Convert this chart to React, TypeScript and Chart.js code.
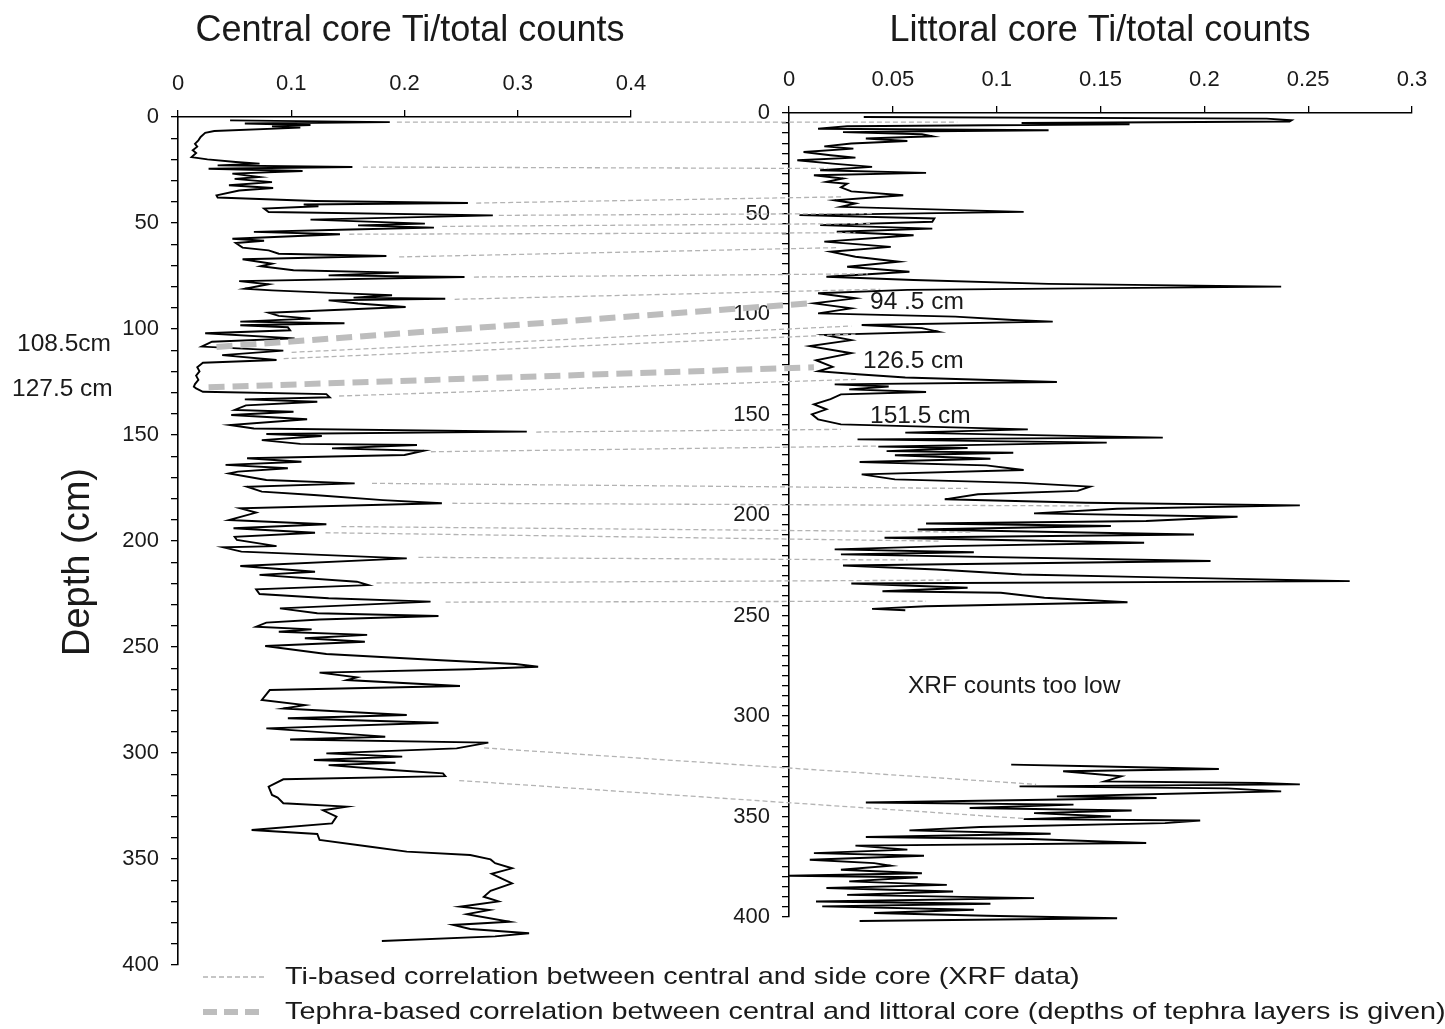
import React, { useEffect, useRef } from 'react';
import { Chart, registerables } from 'chart.js';

Chart.register(...registerables);

// ---------------- DATA ----------------
// [depth (cm), Ti/total counts]
const centralCore: [number, number][] = [
  [1.6,0.046],[2.4,0.187],[3.1,0.059],[3.8,0.117],[4.4,0.083],[5.0,0.108],[6.6,0.032],[7.5,0.024],[9.4,0.020],[11,0.018],
  [12.6,0.015],[14,0.017],[15.7,0.013],[17,0.016],[18.9,0.012],[20,0.026],[21.2,0.051],[22,0.072],[22.8,0.035],[23.6,0.154],
  [24.4,0.027],[25.5,0.110],[26.7,0.048],[28.3,0.072],[29.2,0.050],[30.7,0.083],[32.2,0.045],[33.5,0.084],[34.7,0.054],[37,0.034],
  [38,0.035],[39.6,0.121],[40.6,0.256],[41.3,0.111],[42.1,0.124],[43.2,0.076],[44.8,0.080],[46.4,0.278],[48.4,0.117],[50.3,0.218],
  [51.1,0.159],[52.2,0.226],[53.1,0.152],[54.2,0.067],[55.3,0.143],[57.4,0.048],[58.4,0.076],[59.4,0.051],[61.6,0.057],[62.9,0.080],
  [64.5,0.089],[65.6,0.184],[67.1,0.057],[69.2,0.083],[70.4,0.073],[72.3,0.102],[73.4,0.195],[74.7,0.133],[75.5,0.253],[77.4,0.054],
  [78.9,0.080],[81,0.059],[81.8,0.083],[83.3,0.152],[84.1,0.189],[85.2,0.155],[85.7,0.236],[86.5,0.133],[88,0.159],[89.6,0.201],
  [92.3,0.080],[93.8,0.089],[95.1,0.117],[96.5,0.055],[97.3,0.147],[98.2,0.055],[99.2,0.097],[100.6,0.099],[102,0.024],[104.4,0.103],
  [106,0.030],[108.3,0.021],[110.2,0.093],[112.3,0.039],[114.6,0.087],[115.9,0.022],[118,0.017],[120,0.019],[122,0.016],[124,0.018],
  [126,0.015],[127.2,0.014],[128,0.016],[129.6,0.022],[130.7,0.131],[132.2,0.134],[133.2,0.059],[134.3,0.123],[136,0.060],[138.2,0.050],
  [139,0.102],[140.6,0.047],[142.6,0.114],[145.3,0.046],[146.9,0.067],[148.4,0.308],[149.5,0.078],[150.5,0.127],[152.4,0.074],[154.2,0.108],
  [154.7,0.211],[156.3,0.136],[157.4,0.217],[159.4,0.200],[161,0.061],[162.6,0.109],[164.1,0.042],[165.7,0.097],[167.3,0.053],[168.1,0.045],
  [171.2,0.078],[172.8,0.156],[174.4,0.061],[176.7,0.074],[178.3,0.120],[180.7,0.181],[182.2,0.233],[184.6,0.055],[186.6,0.069],[190.1,0.045],
  [192.1,0.131],[194,0.049],[196.1,0.121],[198,0.050],[199.5,0.052],[202.4,0.087],[203,0.040],[205,0.056],[208.2,0.202],[211.8,0.055],
  [214.5,0.121],[216,0.072],[219.2,0.158],[220.8,0.168],[222.8,0.069],[225,0.072],[227,0.133],[228.6,0.223],[231.8,0.090],[234.1,0.123],
  [235.4,0.230],[237,0.125],[238.5,0.078],[240.4,0.069],[241.7,0.118],[242.8,0.089],[244.3,0.167],[245.9,0.112],[247.5,0.165],[249.5,0.077],
  [253.3,0.131],[256.1,0.228],[258,0.298],[259.3,0.318],[260.5,0.258],[262.1,0.125],[264.3,0.158],[265.6,0.149],[268.4,0.249],[270.3,0.081],
  [275,0.074],[277.4,0.112],[279,0.093],[282.1,0.202],[283.6,0.097],[285.7,0.230],[288.4,0.078],[292.3,0.183],[293.6,0.099],[295.1,0.274],
  [297.8,0.246],[300.2,0.131],[301.7,0.198],[303.3,0.120],[304.6,0.192],[305.7,0.133],[308,0.189],[309.6,0.234],[310.9,0.236],[312.4,0.093],
  [315.9,0.080],[319.8,0.083],[321,0.088],[323.7,0.093],[325.3,0.149],[327,0.128],[330,0.140],[333.2,0.136],[336.3,0.065],[338.2,0.123],
  [341,0.125],[344.2,0.170],[346.5,0.202],[348.1,0.258],[350.2,0.276],[352,0.280],[354.4,0.295],[357,0.277],[359,0.285],[361.5,0.295],
  [365,0.276],[367.8,0.270],[370,0.283],[372.5,0.249],[374,0.275],[376,0.255],[379.6,0.293],[381.1,0.243],[383,0.258],[385,0.310],
  [386.5,0.280],[388.7,0.180],
];

const littoralUpper: [number, number][] = [
  [2,0.036],[2.8,0.230],[3.6,0.242],[4.2,0.241],[5,0.112],[5.6,0.164],[6.6,0.028],[7.8,0.014],[8.6,0.125],[9.5,0.026],
  [10.6,0.064],[11.6,0.069],[12.7,0.037],[13.9,0.057],[15.2,0.030],[16.6,0.017],[17.7,0.031],[19.4,0.007],[21,0.020],[22.2,0.032],
  [23.5,0.004],[25.2,0.021],[26.8,0.040],[28.5,0.015],[29.8,0.066],[31,0.012],[32.6,0.026],[34.3,0.018],[35.2,0.028],[37,0.025],
  [39,0.030],[40.9,0.055],[43.4,0.022],[45,0.032],[46.7,0.025],[49.2,0.113],[50.8,0.005],[52.5,0.070],[54.1,0.069],[55.8,0.015],
  [57.5,0.069],[59.1,0.023],[60.8,0.060],[64,0.017],[66.6,0.049],[69,0.020],[71.5,0.032],[74,0.053],[76.5,0.028],[79,0.058],
  [81.5,0.018],[83.1,0.060],[85,0.125],[86.4,0.237],[88,0.057],[89.7,0.014],[92.2,0.032],[94.7,0.012],[97.2,0.030],[99.7,0.014],
  [101.3,0.080],[103,0.108],[103.8,0.127],[105.5,0.035],[107,0.064],[108.8,0.072],[110.4,0.017],[113,0.030],[116,0.010],[119.5,0.030],
  [123,0.013],[126.3,0.021],[128.5,0.014],[130,0.033],[131.6,0.056],[133.8,0.129],[135,0.022],[136.1,0.048],[137.5,0.029],[138.8,0.066],
  [140,0.025],[142.4,0.020],[145,0.012],[147.4,0.018],[149.9,0.011],[152.4,0.014],[154.9,0.025],[157.4,0.115],[159,0.056],[161.5,0.180],
  [162.4,0.033],[164,0.153],[166,0.043],[166.7,0.086],[168.2,0.047],[169,0.108],[170.3,0.051],[172,0.097],[173.6,0.034],[175.3,0.095],
  [177.6,0.113],[179.8,0.035],[182.3,0.051],[184,0.112],[185.9,0.145],[188,0.139],[189.7,0.091],[192.2,0.075],[193.9,0.143],[195.2,0.246],
  [196.9,0.158],[199.2,0.118],[200.9,0.216],[203,0.172],[204.2,0.066],[205.5,0.155],[207.2,0.062],[209.7,0.195],[211.3,0.046],[213.8,0.171],
  [215.5,0.075],[217.1,0.022],[218.5,0.089],[219.6,0.025],[222.9,0.203],[225.1,0.026],[227.1,0.071],[229.6,0.112],[230.8,0.167],[232.9,0.270],
  [234.1,0.030],[236.2,0.086],[237.9,0.045],[238.7,0.102],[241.2,0.123],[243.4,0.163],[245.4,0.066],[246.7,0.040],[247.4,0.056],
];

const littoralLower: [number, number][] = [
  [324.2,0.107],[325,0.146],[326.4,0.207],[327.5,0.132],[330,0.160],[332.5,0.152],[333.3,0.227],[334,0.246],[335,0.111],[336,0.211],
  [337.5,0.237],[338.3,0.200],[340,0.129],[340.8,0.177],[343,0.037],[344.1,0.137],[345.8,0.087],[347,0.165],[348.3,0.118],[350,0.155],
  [351.3,0.113],[352,0.198],[353.3,0.181],[355.2,0.092],[356.9,0.058],[358.6,0.126],[360.2,0.037],[361.2,0.116],[363.2,0.172],[364.5,0.032],
  [366.5,0.057],[368.2,0.012],[369.5,0.065],[371.5,0.010],[373.2,0.041],[374.5,0.049],[376.5,0.025],[378.2,0.064],[379.5,0.000],[380.2,0.062],
  [382.3,0.029],[384,0.076],[385.6,0.018],[387.3,0.079],[389,0.028],[390.6,0.118],[392.3,0.013],[393.4,0.097],[394.7,0.016],[396.4,0.089],
  [398,0.041],[399.4,0.095],[400.6,0.158],[402,0.034],
];

// Ti-based correlations: [central depth, central value, littoral depth, littoral value]
const tiLinks: [number, number, number, number][] = [
  [2.4,0.188,4.5,0.081],[23.6,0.158,27.6,0.019],[40.6,0.258,41.7,0.026],[46.4,0.278,50,0.040],[51.6,0.228,55,0.039],
  [55.3,0.146,59.6,0.032],[66,0.190,67,0.023],[75.5,0.256,80,0.038],[86,0.239,87.7,0.044],[111,0.095,106,0.030],
  [114,0.088,110,0.032],[131.6,0.137,132.5,0.033],[148.6,0.311,157.4,0.025],[157.9,0.218,165.7,0.042],[172.8,0.166,186.8,0.086],
  [182.2,0.237,195.5,0.146],[193.2,0.139,208.5,0.088],[196.1,0.125,213,0.073],[207.7,0.207,222.4,0.057],[219.8,0.170,232.4,0.079],
  [228.8,0.231,242.9,0.066],[297.6,0.265,334,0.119],[313,0.243,351,0.113],
];

// Tephra-based correlations
const tephraLinks: [number, number, number, number][] = [
  [108.5,0.034,94.5,0.012],
  [127.5,0.027,126.5,0.012],
];

const leftTicksX = { min: 0, max: 0.4, step: 0.1 };
const rightTicksX = { min: 0, max: 0.3, step: 0.05 };
const depthRange = { min: 0, max: 400 };

// ---------------- LAYOUT ----------------
const W = 1445;
const H = 1029;
const FONT = "'Liberation Sans', Arial, Helvetica, sans-serif";
const TXT = '#1a1a1a';

const BOXES: Record<string, { left: number; right: number; top: number; bottom: number }> = {
  xL: { left: 178, right: 631, top: 50, bottom: 117 },
  yL: { left: 90, right: 178, top: 117, bottom: 965 },
  xR: { left: 789, right: 1412, top: 46, bottom: 113 },
  yR: { left: 700, right: 789, top: 113, bottom: 917 },
};

const placePlugin = {
  id: 'placeAxes',
  afterLayout(chart: any) {
    for (const id of Object.keys(BOXES)) {
      const s = chart.scales[id];
      const b = BOXES[id];
      if (!s) continue;
      s.left = b.left; s.right = b.right; s.top = b.top; s.bottom = b.bottom;
      s.width = b.right - b.left; s.height = b.bottom - b.top;
      s.configure();
    }
  },
};

const linksPlugin = {
  id: 'links',
  afterDatasetsDraw(chart: any) {
    const { ctx, scales } = chart;
    const draw = (links: [number, number, number, number][], color: string, width: number, dash: number[], gap: number) => {
      ctx.save();
      ctx.strokeStyle = color;
      ctx.lineWidth = width;
      ctx.setLineDash(dash);
      for (const [ld, lv, rd, rv] of links) {
        ctx.beginPath();
        ctx.moveTo(scales.xL.getPixelForValue(lv) + gap, scales.yL.getPixelForValue(ld));
        ctx.lineTo(scales.xR.getPixelForValue(rv), scales.yR.getPixelForValue(rd));
        ctx.stroke();
      }
      ctx.restore();
    };
    draw(tiLinks, '#b3b3b3', 1.3, [5, 3], 6);
    draw(tephraLinks, '#bdbdbd', 6, [16, 8], 0);
  },
};

const stretchText = (ctx: CanvasRenderingContext2D, text: string, x: number, y: number, sx: number) => {
  ctx.save();
  ctx.translate(x, y);
  ctx.scale(sx, 1);
  ctx.fillText(text, 0, 0);
  ctx.restore();
};

const textPlugin = {
  id: 'texts',
  afterDraw(chart: any) {
    const { ctx } = chart;
    ctx.save();
    ctx.fillStyle = TXT;
    ctx.textBaseline = 'middle';
    // titles
    ctx.font = `36px ${FONT}`;
    ctx.textAlign = 'center';
    ctx.fillText('Central core Ti/total counts', 410, 31);
    ctx.fillText('Littoral core Ti/total counts', 1100, 31);
    // y title
    ctx.save();
    ctx.translate(79, 562);
    ctx.rotate(-Math.PI / 2);
    ctx.font = `38px ${FONT}`;
    ctx.fillText('Depth (cm)', 0, 0);
    ctx.restore();
    // annotations
    ctx.font = `24.5px ${FONT}`;
    ctx.textAlign = 'left';
    ctx.fillText('108.5cm', 17, 344);
    ctx.fillText('127.5 cm', 12, 389);
    ctx.fillText('94 .5 cm', 870, 302);
    ctx.fillText('126.5 cm', 863, 361);
    ctx.fillText('151.5 cm', 870, 416);
    ctx.fillText('XRF counts too low', 908, 686);
    // legend
    ctx.font = `24px ${FONT}`;
    stretchText(ctx, 'Ti-based correlation between central and side core (XRF data)', 285, 977, 1.2);
    stretchText(ctx, 'Tephra-based correlation between central and littoral core (depths of tephra layers is given)', 285, 1012, 1.2);
    ctx.strokeStyle = '#b3b3b3';
    ctx.lineWidth = 1.3;
    ctx.setLineDash([5, 3]);
    ctx.beginPath(); ctx.moveTo(203, 977); ctx.lineTo(266, 977); ctx.stroke();
    ctx.strokeStyle = '#bdbdbd';
    ctx.lineWidth = 6;
    ctx.setLineDash([14, 7]);
    ctx.beginPath(); ctx.moveTo(203, 1012); ctx.lineTo(266, 1012); ctx.stroke();
    ctx.restore();
  },
};

const fmt = (v: number | string) => String(+Number(v).toFixed(3));

const xAxis = (r: { min: number; max: number; step: number }) => ({
  type: 'linear' as const,
  position: 'top' as const,
  min: r.min,
  max: r.max,
  grid: { display: true, drawOnChartArea: false, drawTicks: true, tickLength: 7, color: '#000', lineWidth: 1.3 },
  border: { display: true, color: '#000', width: 1.6 },
  ticks: {
    stepSize: r.step,
    autoSkip: false,
    maxRotation: 0,
    padding: 13,
    color: TXT,
    font: { family: FONT, size: 22 },
    callback: (v: any) => fmt(v),
  },
});

const yAxis = (minorStep: number) => ({
  type: 'linear' as const,
  position: 'left' as const,
  reverse: true,
  min: depthRange.min,
  max: depthRange.max,
  grid: { display: true, drawOnChartArea: false, drawTicks: true, tickLength: 7, color: '#000', lineWidth: 1.3 },
  border: { display: true, color: '#000', width: 1.6 },
  ticks: {
    stepSize: minorStep,
    autoSkip: false,
    padding: 12,
    color: TXT,
    font: { family: FONT, size: 22 },
    callback: (v: any) => (Number(v) % 50 === 0 ? String(v) : ''),
  },
});

const line = (pts: [number, number][], xId: string, yId: string) => ({
  data: pts.map(([d, v]) => ({ x: v, y: d })),
  xAxisID: xId,
  yAxisID: yId,
  showLine: true,
  borderColor: '#000',
  borderWidth: 1.9,
  pointRadius: 0,
  pointHoverRadius: 0,
  tension: 0,
  clip: false as const,
});

export default function App() {
  const ref = useRef<HTMLCanvasElement>(null);
  useEffect(() => {
    document.body.style.margin = '0';
    const chart = new Chart(ref.current as HTMLCanvasElement, {
      type: 'scatter',
      data: {
        datasets: [
          line(centralCore, 'xL', 'yL'),
          line(littoralUpper, 'xR', 'yR'),
          line(littoralLower, 'xR', 'yR'),
        ] as any,
      },
      options: {
        animation: false,
        responsive: false,
        devicePixelRatio: 1,
        events: [],
        layout: { padding: 0 },
        plugins: { legend: { display: false }, tooltip: { enabled: false }, title: { display: false } },
        scales: {
          xL: xAxis(leftTicksX),
          xR: xAxis(rightTicksX),
          yL: yAxis(10),
          yR: yAxis(5),
        } as any,
      },
      plugins: [placePlugin, linksPlugin, textPlugin],
    });
    return () => chart.destroy();
  }, []);
  return (
    <div style={{ width: W, height: H, background: '#fff' }}>
      <canvas ref={ref} width={W} height={H} style={{ display: 'block' }} />
    </div>
  );
}
